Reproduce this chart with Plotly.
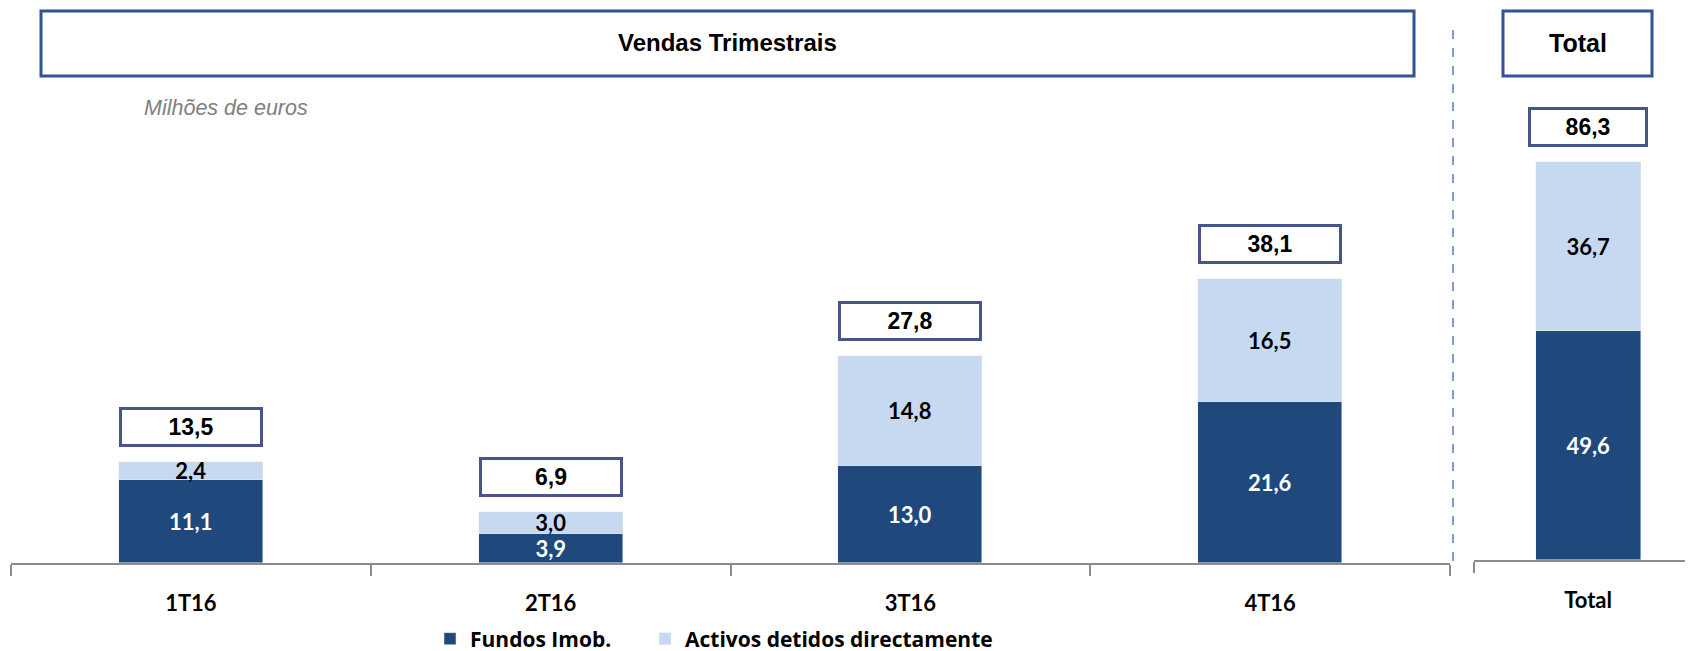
import plotly.graph_objects as go

# Vendas trimestrais (milhões de euros)
quarters = ["1T16", "2T16", "3T16", "4T16"]
fundos = [11.1, 3.9, 13.0, 21.6]
activos = [2.4, 3.0, 14.8, 16.5]
totais = [13.5, 6.9, 27.8, 38.1]

total_cat = ["Total"]
total_fundos = [49.6]
total_activos = [36.7]
total_geral = [86.3]

# a página tem 8px de margem no body -> compensar nas posições
OFF = 8
W, H = 1693 - OFF, 651
DARK = "#1F497D"
LIGHT = "#C6D9F1"
BOX = "#2F5597"
LBL_BOX = "#46568A"
AXIS = "#8C8C8C"
BODY_FONT = "Lato"


def fmt(v):
    return f"{v:.1f}".replace(".", ",")


def px(x):
    # x em pixels da janela -> coordenada paper
    return (x - OFF) / W


def py(y):
    return 1 - (y - OFF) / H


fig = go.Figure()

# painel trimestral
fig.add_trace(go.Bar(
    x=quarters, y=fundos, name="Fundos Imob.", marker_color=DARK,
    width=0.4, text=[fmt(v) for v in fundos], textposition="inside",
    insidetextanchor="middle", legend="legend",
    textfont=dict(color="white", size=22, family=BODY_FONT, weight="bold"),
    xaxis="x", yaxis="y",
))
fig.add_trace(go.Bar(
    x=quarters, y=activos, name="Activos detidos directamente", marker_color=LIGHT,
    width=0.4, text=[fmt(v) for v in activos], textposition="inside",
    insidetextanchor="middle", legend="legend2",
    textfont=dict(color="black", size=22, family=BODY_FONT, weight="bold"),
    xaxis="x", yaxis="y",
))

# painel total
fig.add_trace(go.Bar(
    x=total_cat, y=total_fundos, name="Fundos Imob.", marker_color=DARK,
    width=0.46, text=[fmt(v) for v in total_fundos], textposition="inside",
    insidetextanchor="middle", showlegend=False,
    textfont=dict(color="white", size=22, family=BODY_FONT, weight="bold"),
    xaxis="x2", yaxis="y2",
))
fig.add_trace(go.Bar(
    x=total_cat, y=total_activos, name="Activos detidos directamente",
    marker_color=LIGHT, width=0.46, text=[fmt(v) for v in total_activos],
    textposition="inside", insidetextanchor="middle", showlegend=False,
    textfont=dict(color="black", size=22, family=BODY_FONT, weight="bold"),
    xaxis="x2", yaxis="y2",
))

# caixas com os totais
annotations = []
for q, t in zip(quarters, totais):
    annotations.append(dict(
        x=q, y=t, xref="x", yref="y", xanchor="center", yanchor="bottom", yshift=15,
        text=fmt(t), showarrow=False, width=136, height=32,
        bordercolor=LBL_BOX, borderwidth=3, borderpad=1, bgcolor="white",
        font=dict(size=23, color="black", family="Arial", weight="bold"),
    ))
for c, t in zip(total_cat, total_geral):
    annotations.append(dict(
        x=c, y=t, xref="x2", yref="y2", xanchor="center", yanchor="bottom", yshift=15,
        text=fmt(t), showarrow=False, width=112, height=32,
        bordercolor=LBL_BOX, borderwidth=3, borderpad=1, bgcolor="white",
        font=dict(size=23, color="black", family="Arial", weight="bold"),
    ))

annotations += [
    dict(x=px(727), y=py(43), xref="paper", yref="paper", xanchor="center",
         yanchor="middle", text="Vendas Trimestrais", showarrow=False,
         font=dict(size=24, color="black", family="Arial", weight="bold")),
    dict(x=px(1578), y=py(43), xref="paper", yref="paper", xanchor="center",
         yanchor="middle", text="Total", showarrow=False,
         font=dict(size=25, color="black", family="Arial", weight="bold")),
    dict(x=px(142), y=py(108), xref="paper", yref="paper", xanchor="left",
         yanchor="middle", text="Milhões de euros", showarrow=False,
         font=dict(size=21.5, color="#808080", family="Arial", style="italic")),
]

shapes = [
    dict(type="rect", xref="paper", yref="paper", x0=px(41), x1=px(1414),
         y0=py(76), y1=py(11), line=dict(color=BOX, width=3)),
    dict(type="rect", xref="paper", yref="paper", x0=px(1503), x1=px(1652),
         y0=py(76), y1=py(11), line=dict(color=BOX, width=3)),
    dict(type="line", xref="paper", yref="paper", x0=px(1453), x1=px(1453),
         y0=py(561), y1=py(28), line=dict(color="#5B7BC8", width=1.5, dash="dash")),
]

legend_style = dict(orientation="h", xanchor="left", y=py(639), yanchor="middle",
                    font=dict(size=21, color="black", family="Open Sans", weight="bold"),
                    itemwidth=30, bgcolor="rgba(0,0,0,0)")

tick_font = dict(size=22, color="black", family=BODY_FONT, weight="bold")

fig.update_layout(
    width=W, height=H, autosize=False,
    margin=dict(l=0, r=0, t=0, b=0, autoexpand=False),
    paper_bgcolor="white", plot_bgcolor="white",
    barmode="stack", bargap=0,
    uniformtext=dict(minsize=22, mode="show"),
    showlegend=True,
    legend=dict(x=px(430), **legend_style),
    legend2=dict(x=px(645), **legend_style),
    xaxis=dict(domain=[px(11), px(1450)], range=[-0.5, 3.5], anchor="y",
               showline=True, linecolor=AXIS, linewidth=2, ticks="outside",
               tickson="boundaries", ticklen=11, tickcolor=AXIS, tickwidth=1.5,
               ticklabelstandoff=20, automargin=False, tickfont=tick_font,
               showgrid=False, zeroline=False, fixedrange=True),
    yaxis=dict(domain=[py(563), py(100)], range=[0, 62.15], anchor="x",
               visible=False, showgrid=False, zeroline=False, automargin=False),
    xaxis2=dict(domain=[px(1474), 1], range=[-0.5, 0.46], anchor="y2",
                showline=True, linecolor=AXIS, linewidth=2, ticks="outside",
                tickson="boundaries", ticklen=11, tickcolor=AXIS, tickwidth=1.5,
                ticklabelstandoff=20, automargin=False, tickfont=tick_font,
                showgrid=False, zeroline=False),
    yaxis2=dict(domain=[py(560), py(100)], range=[0, 99.8], anchor="x2",
                visible=False, showgrid=False, zeroline=False, automargin=False),
    annotations=annotations,
    shapes=shapes,
)

fig.write_html("out.html")
